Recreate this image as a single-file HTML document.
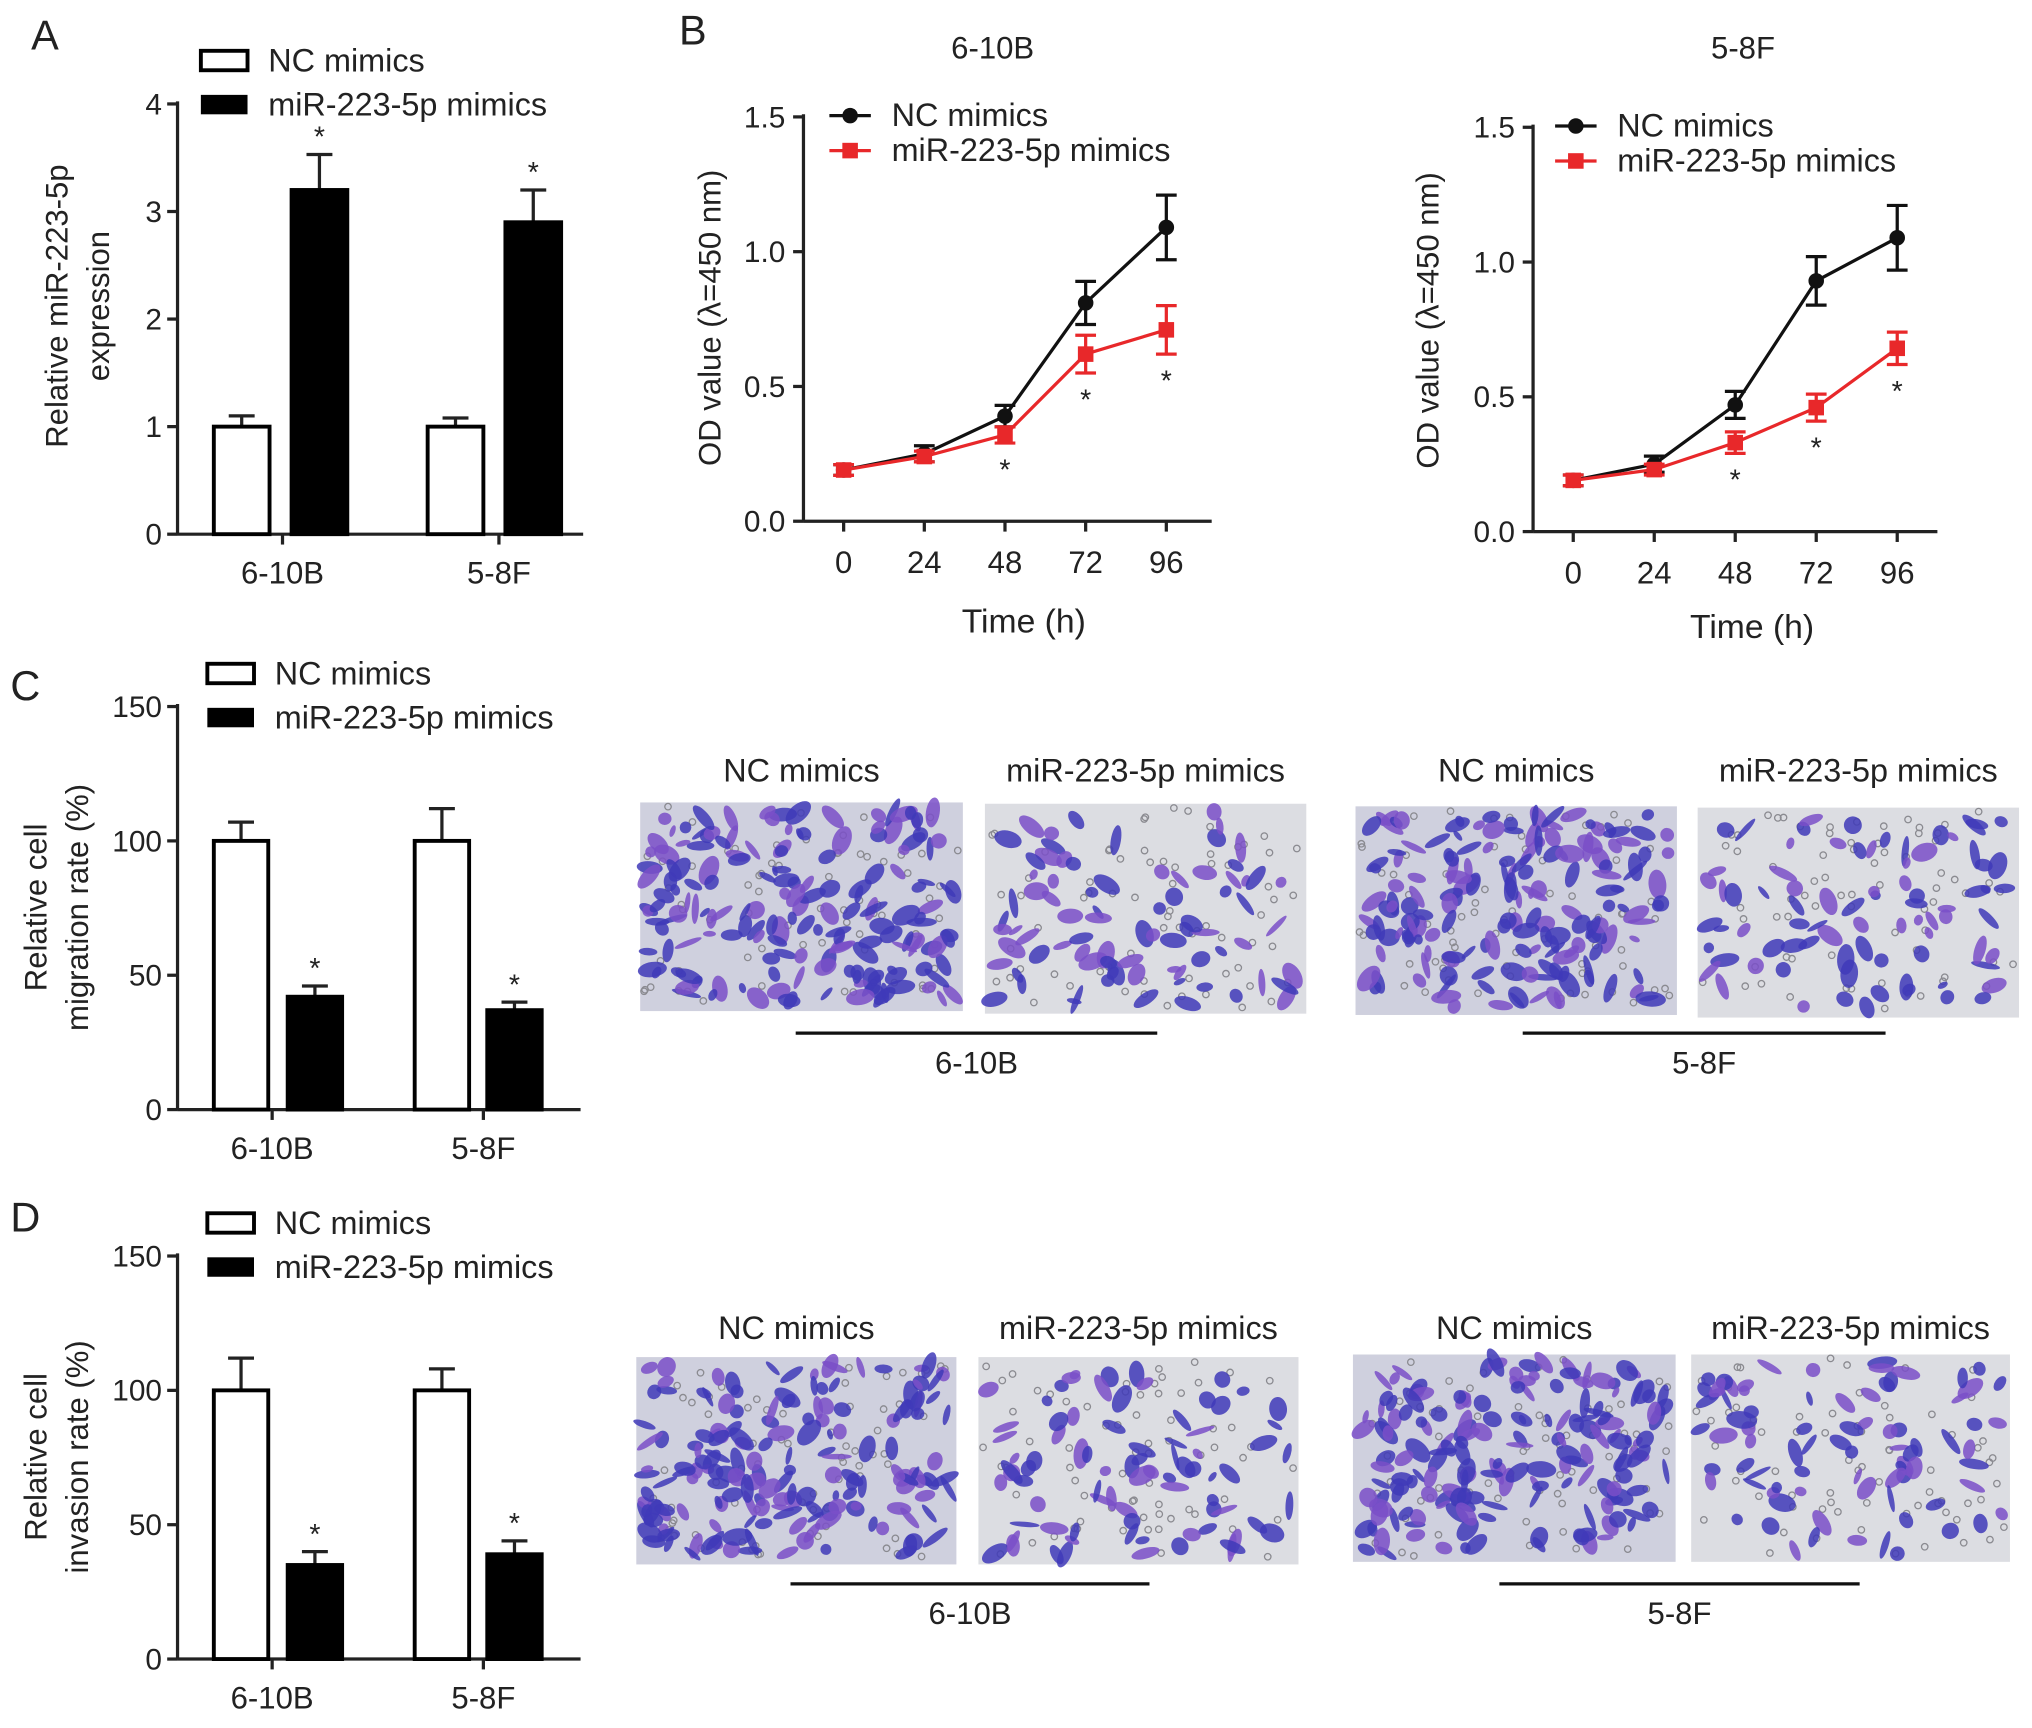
<!DOCTYPE html>
<html><head><meta charset="utf-8"><style>
html,body{margin:0;padding:0;background:#fff;width:2032px;height:1728px;overflow:hidden}
svg text{font-family:"Liberation Sans",Arial,sans-serif;fill:#222}
</style></head><body>
<svg id="fig" width="2032" height="1728" viewBox="0 0 1568 1333" xmlns="http://www.w3.org/2000/svg"></svg>
<script>
// ---- Panel A data ----
const aCats=["6-10B","5-8F"];
const aNC=[1.0,1.0], aNCerr=[0.1,0.08];
const aMiR=[3.2,2.9], aMiRerr=[0.33,0.3];
const aTicks=[0,1,2,3,4];
// ---- Panel B data ----
const bTimes=[0,24,48,72,96];
const bTicks=[0.0,0.5,1.0,1.5];
const b1NC=[0.19,0.25,0.39,0.81,1.09], b1NCerr=[0.02,0.03,0.04,0.08,0.12];
const b1MiR=[0.19,0.24,0.32,0.62,0.71], b1MiRerr=[0.02,0.02,0.03,0.07,0.09];
const b2NC=[0.19,0.25,0.47,0.93,1.09], b2NCerr=[0.02,0.03,0.05,0.09,0.12];
const b2MiR=[0.19,0.23,0.33,0.46,0.68], b2MiRerr=[0.02,0.02,0.04,0.05,0.06];
// ---- Panel C/D data ----
const cdTicks=[0,50,100,150];
const cNC=[100,100], cNCerr=[7,12], cMiR=[42,37], cMiRerr=[4,3];
const dNC=[100,100], dNCerr=[12,8], dMiR=[35,39], dMiRerr=[5,5];

const svg=document.getElementById('fig');
const NS='http://www.w3.org/2000/svg';
function el(tag,attrs,parent,txt){const e=document.createElementNS(NS,tag);for(const k in attrs)e.setAttribute(k,attrs[k]);if(txt!==undefined)e.textContent=txt;(parent||svg).appendChild(e);return e;}
function txt(x,y,s,size,name,anchor,extra){const t=el('text',Object.assign({x:x,y:y,'font-size':size,'text-anchor':anchor||'middle'},extra||{}),svg,s);

return t;}
function line(x1,y1,x2,y2,name,color,w){const l=el('line',{x1,y1,x2,y2,stroke:color||'#222','stroke-width':w||2.5});

return l;}

function barPanel(o){
  const y=v=>o.y0-(v-o.min)/(o.max-o.min)*(o.y0-o.yTop);
  line(o.ax,o.yTop-2,o.ax,o.y0,'y-axis');
  line(o.ax,o.y0,o.axEnd,o.y0,'x-axis');
  o.ticks.forEach(t=>{line(o.ax-8,y(t),o.ax,y(t),'y-tick');txt(o.ax-12,y(t)+8,String(t),23,'y-tick-label','end');});
  const series=[[o.nc,o.ncErr,'#fff','nc'],[o.mir,o.mirErr,'#000','mir']];
  o.cats.forEach((c,i)=>{
    series.forEach((s,j)=>{
      const x=o.barX[i][j], v=s[0][i], e=s[1][i];
      line(x+o.bw/2,y(v+e),x+o.bw/2,y(v),'error-bar');
      line(x+o.bw/2-10,y(v+e),x+o.bw/2+10,y(v+e),'error-cap');
      const r=el('rect',{x:x,y:y(v),width:o.bw,height:o.y0-y(v),fill:s[2],stroke:'#000','stroke-width':3});
      
      
      if(j==1) txt(x+o.bw/2,y(v+e)-6,'*',22,'significance-star');
    });
    line(o.labX[i],o.y0,o.labX[i],o.y0+8,'x-tick');
    txt(o.labX[i],o.y0+38,c,24,'x-tick-label');
  });
  const r1=el('rect',{x:o.lx,y:o.ly,width:36,height:15,fill:'#fff',stroke:'#000','stroke-width':3});
  
  
  txt(o.lx+52,o.ly+16,'NC mimics',25,'legend-entry-nc','start');
  const r2=el('rect',{x:o.lx,y:o.ly+34,width:36,height:15,fill:'#000'});
  
  
  txt(o.lx+52,o.ly+50,'miR-223-5p mimics',25,'legend-entry-mir','start');
  o.title.forEach((t,k)=>txt(o.tx[k],o.tcy,t,24,'y-axis-title','middle',{transform:`rotate(-90 ${o.tx[k]} ${o.tcy})`}));
  txt(o.letX,o.letY,o.letter,32,'panel-label-'+o.letter,'start');
}

barPanel({min:0,max:4,y0:412,yTop:80,ax:137,axEnd:450,ticks:aTicks,cats:aCats,nc:aNC,ncErr:aNCerr,mir:aMiR,mirErr:aMiRerr,
 barX:[[165,225],[330,390]],bw:43,labX:[218,385],lx:155,ly:39,title:['Relative miR-223-5p','expression'],tx:[52,84],tcy:236,letter:'A',letX:24,letY:38});
barPanel({min:0,max:150,y0:856,yTop:545,ax:137,axEnd:448,ticks:cdTicks,cats:aCats,nc:cNC,ncErr:cNCerr,mir:cMiR,mirErr:cMiRerr,
 barX:[[165,222],[320,376]],bw:42,labX:[210,373],lx:160,ly:512,title:['Relative cell','migration rate (%)'],tx:[36,68],tcy:700,letter:'C',letX:8,letY:540});
barPanel({min:0,max:150,y0:1280,yTop:969,ax:137,axEnd:448,ticks:cdTicks,cats:aCats,nc:dNC,ncErr:dNCerr,mir:dMiR,mirErr:dMiRerr,
 barX:[[165,222],[320,376]],bw:42,labX:[210,373],lx:160,ly:936,title:['Relative cell','invasion rate (%)'],tx:[36,68],tcy:1124,letter:'D',letX:8,letY:950});

function linePanel(o){
  const y=v=>o.y0-v/1.5*(o.y0-o.yTop);
  const x=t=>o.x0+t/96*(o.x96-o.x0);
  line(o.ax,o.yTop-2,o.ax,o.y0,'y-axis');
  line(o.ax,o.y0,o.axEnd,o.y0,'x-axis');
  bTicks.forEach(t=>{line(o.ax-8,y(t),o.ax,y(t),'y-tick');txt(o.ax-14,y(t)+8,t.toFixed(1),23,'y-tick-label','end');});
  bTimes.forEach(t=>{line(x(t),o.y0,x(t),o.y0+8,'x-tick');txt(x(t),o.y0+40,String(t),24,'x-tick-label');});
  [[o.nc,o.ncErr,'#111','nc'],[o.mir,o.mirErr,'#e8282a','mir']].forEach(s=>{
    const p=el('polyline',{points:bTimes.map((t,i)=>x(t)+','+y(s[0][i])).join(' '),fill:'none',stroke:s[2],'stroke-width':2.5});
    
    
    bTimes.forEach((t,i)=>{
      const v=s[0][i],e=s[1][i];
      line(x(t),y(v+e),x(t),y(v-e),'error-bar',s[2],2.5);
      line(x(t)-8,y(v+e),x(t)+8,y(v+e),'error-cap',s[2],2.5);
      line(x(t)-8,y(v-e),x(t)+8,y(v-e),'error-cap',s[2],2.5);
      let m;
      if(s[3]=='nc') m=el('circle',{cx:x(t),cy:y(v),r:6,fill:s[2]});
      else m=el('rect',{x:x(t)-6,y:y(v)-6,width:12,height:12,fill:s[2]});
      
      
      if(s[3]=='mir'&&i>=2) txt(x(t),y(v-e)+28,'*',22,'significance-star');
    });
  });
  line(o.lx,o.ly,o.lx+32,o.ly,'legend-line-nc','#111',2.5);
  el('circle',{cx:o.lx+16,cy:o.ly,r:6,fill:'#111'});
  txt(o.lx+48,o.ly+8,'NC mimics',25,'legend-entry-nc','start');
  line(o.lx,o.ly+27,o.lx+32,o.ly+27,'legend-line-mir','#e8282a',2.5);
  el('rect',{x:o.lx+10,y:o.ly+21,width:12,height:12,fill:'#e8282a'});
  txt(o.lx+48,o.ly+35,'miR-223-5p mimics',25,'legend-entry-mir','start');
  txt(o.tcx,45,o.title,24,'chart-title');
  txt(o.ytx,o.ytcy,'OD value (λ=450 nm)',24,'y-axis-title','middle',{transform:`rotate(-90 ${o.ytx} ${o.ytcy})`});
  txt(o.tmx,o.tmy,'Time (h)',26,'x-axis-title');
}
linePanel({y0:402,yTop:90,ax:620,axEnd:935,x0:651,x96:900,nc:b1NC,ncErr:b1NCerr,mir:b1MiR,mirErr:b1MiRerr,lx:640,ly:89,tcx:766,title:'6-10B',ytx:556,ytcy:245,tmx:790,tmy:488});
linePanel({y0:410,yTop:98,ax:1183,axEnd:1495,x0:1214,x96:1464,nc:b2NC,ncErr:b2NCerr,mir:b2MiR,mirErr:b2MiRerr,lx:1200,ly:97,tcx:1345,title:'5-8F',ytx:1110,ytcy:247,tmx:1352,tmy:492});
txt(524,34,'B',32,'panel-label-B','start');

// microscopy images (decorative)
let seed=7;function rnd(){seed=(seed*16807)%2147483647;return seed/2147483647;}
function micro(x,yy,w,h,dense,name){
  const g=el('g',{});
  el('rect',{x:x,y:yy,width:w,height:h,fill:dense?'#cfd0de':'#dcdde2'},g);
  for(let i=0;i<70;i++){
    const cx=x+3+rnd()*(w-6),cy=yy+3+rnd()*(h-6);
    el('circle',{cx:cx,cy:cy,r:2.5,fill:'none',stroke:'#8a8a90','stroke-width':1},g);
  }
  const n=dense?170:80;
  for(let i=0;i<n;i++){
    const cx=x+6+rnd()*(w-12),cy=yy+6+rnd()*(h-12);
    el('ellipse',{cx:cx,cy:cy,rx:4+rnd()*8,ry:2+rnd()*5,transform:`rotate(${rnd()*180} ${cx} ${cy})`,fill:rnd()<0.6?'#3f3ab8':'#7a4fc8',opacity:0.85},g);
  }
}
function imgRow(ty,imgs,lines,ly){
  const titles=['NC mimics','miR-223-5p mimics','NC mimics','miR-223-5p mimics'];
  imgs.forEach((b,i)=>{txt(b[0]+b[2]/2,ty,titles[i],25,'image-title');micro(b[0],b[1],b[2],b[3],i%2==0,'micrograph');});
  [['6-10B',lines[0]],['5-8F',lines[1]]].forEach(l=>{line(l[1][0],ly,l[1][1],ly,'cell-line-bar','#111',2.5);txt((l[1][0]+l[1][1])/2,ly+31,l[0],24,'cell-line-label');});
}
imgRow(603,[[494,619,249,161],[760,620,248,162],[1046,622,248,161],[1310,623,248,162]],[[614,893],[1175,1455]],797);
imgRow(1033,[[491,1047,247,160],[755,1047,247,160],[1044,1045,249,160],[1305,1045,246,160]],[[610,887],[1157,1435]],1222);
</script>
</body></html>
